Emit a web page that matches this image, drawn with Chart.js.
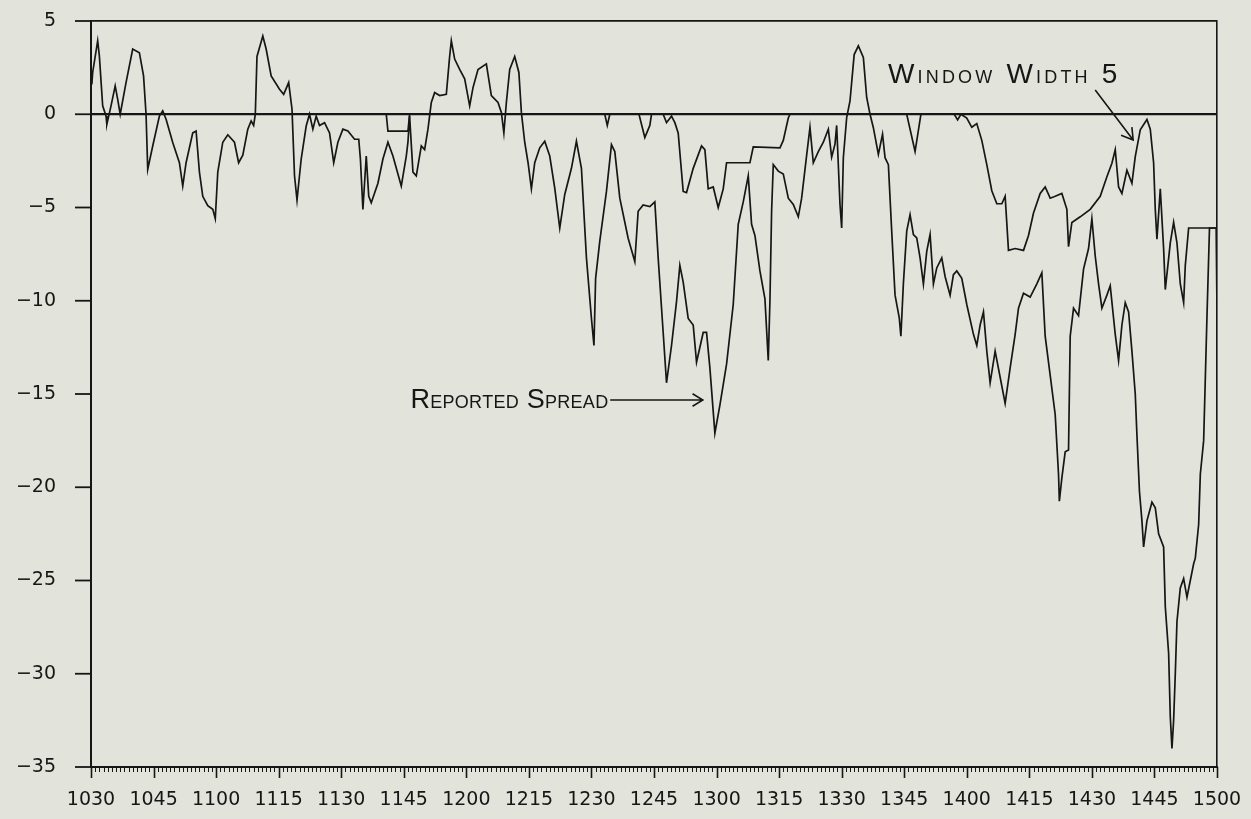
<!DOCTYPE html>
<html>
<head>
<meta charset="utf-8">
<script src="https://cdn.jsdelivr.net/npm/chart.js@4.4.0/dist/chart.umd.min.js"></script>
<style>
  html, body { margin: 0; padding: 0; background: #e2e4db; }
  #wrap { width: 1251px; height: 819px; position: relative; }
</style>
</head>
<body>
<div id="wrap"><canvas id="spread" width="1251" height="819"></canvas></div>
<script>
// minutes after 10:30, and spread values
var reportedTimes = [
  0.2, 0.4, 1.6, 2.0, 2.8, 3.6, 3.8, 4.8, 5.8, 6.4,
  7.0, 8.4, 10.0, 11.6, 12.6, 13.2, 13.6, 14.8, 16.4, 17.2,
  18.0, 19.6, 21.2, 22.0, 22.8, 24.4, 25.2, 26.0, 26.8, 28.0,
  29.2, 29.8, 30.4, 31.6, 32.8, 34.4, 35.4, 36.4, 37.6, 38.4,
  39.0, 39.4, 39.8, 41.2, 42.0, 43.2, 45.2, 46.2, 47.4, 48.2,
  48.8, 49.4, 50.4, 51.6, 52.4, 53.2, 54.0, 54.8, 56.0, 57.2,
  58.2, 59.2, 60.4, 61.6, 63.2, 64.2, 64.6, 65.2, 66.0, 66.6,
  67.2, 68.8, 70.0, 71.2, 72.4, 74.4, 75.6, 76.0, 76.4, 77.2,
  78.0, 79.2, 80.0, 80.8, 81.6, 82.4, 83.6, 85.2, 86.0, 86.4,
  87.2, 88.4, 89.6, 90.8, 91.6, 92.8, 94.8, 96.0, 97.6, 98.4,
  99.0, 99.6, 100.4, 101.6, 102.6, 103.2, 104.0, 104.8, 105.6, 106.4,
  107.6, 108.8, 110.0, 111.2, 112.4, 113.6, 115.2, 116.4, 117.6, 118.8,
  120.0, 120.6, 121.0, 122.0, 123.6, 124.8, 125.6, 126.8, 128.8, 130.4,
  131.2, 132.4, 134.0, 135.2, 136.0, 137.2, 138.0, 139.2, 140.4, 141.2,
  142.0, 143.2, 144.4, 145.2, 146.8, 147.6, 148.4, 149.6, 150.8, 152.4,
  154.0, 155.2, 156.4, 157.6, 158.4, 159.2, 160.4, 161.6, 162.4, 162.8,
  163.2, 163.6, 164.8, 166.0, 167.2, 168.4, 169.6, 170.4, 171.6, 172.4,
  173.2, 174.4, 175.6, 176.8, 177.6, 178.4, 178.8, 179.6, 180.0, 180.4,
  181.2, 182.0, 183.0, 184.0, 185.2, 186.0, 186.8, 187.6, 188.8, 189.8,
  190.4, 191.2, 192.0, 192.8, 193.8, 194.2, 194.8, 195.6, 196.4, 197.2,
  198.0, 198.8, 199.6, 200.4, 201.2, 202.0, 202.8, 204.0, 204.8, 206.0,
  206.8, 207.6, 208.8, 210.0, 211.6, 212.4, 213.2, 214.0, 214.8, 215.6,
  216.8, 218.0, 219.2, 220.4, 221.6, 222.4, 223.6, 225.2, 226.8, 228.0,
  228.8, 230.0, 231.2, 232.0, 232.2, 232.8, 233.6, 234.4, 234.8, 235.6,
  236.8, 238.0, 239.2, 240.0, 240.8, 241.6, 242.4, 243.6, 244.4, 245.6,
  246.4, 247.2, 248.0, 248.8, 249.6, 250.4, 250.8, 251.4, 252.0, 252.4,
  253.2, 254.4, 255.2, 256.0, 257.2, 257.6, 258.4, 258.8, 259.2, 259.6,
  260.0, 260.4, 261.2, 262.0, 262.8, 263.6, 264.4, 264.8, 265.6, 266.0,
  266.8, 267.6, 268.2, 269.8, 270.0
];
var reportedSpread = [
  1.6, 2.24, 3.94, 3.14, 0.45, -0.09, -0.54, 0.45, 1.52, 0.8,
  0, 1.7, 3.5, 3.3, 2.06, 0, -2.96, -1.7, -0.1, 0.18,
  -0.27, -1.52, -2.6, -3.85, -2.6, -1.0, -0.9, -3.1, -4.4, -4.9,
  -5.1, -5.6, -3.1, -1.5, -1.1, -1.5, -2.6, -2.2, -0.8, -0.36,
  -0.6, 0, 3.1, 4.2, 3.5, 2.06, 1.34, 1.07, 1.7, 0.27,
  -3.3, -4.6, -2.4, -0.63, 0, -0.8, -0.1, -0.6, -0.45, -1.0,
  -2.6, -1.5, -0.8, -0.9, -1.34, -1.34, -2.4, -5.1, -2.24, -4.4,
  -4.75, -3.7, -2.4, -1.5, -2.24, -3.85, -2.24, -1.5, -0.1, -3.1,
  -3.3, -1.7, -1.9, -0.8, 0.63, 1.16, 1.0, 1.07, 3.1, 3.94,
  2.96, 2.4, 1.9, 0.45, 1.43, 2.4, 2.7, 1.0, 0.63, 0.1,
  -1.0, 0.63, 2.4, 3.1, 2.24, 0.1, -1.5, -2.6, -4.0, -2.6,
  -1.8, -1.45, -2.24, -3.96, -6.1, -4.3, -2.9, -1.45, -2.9, -7.7,
  -10.95, -12.4, -8.8, -6.8, -4.14, -1.63, -2.0, -4.5, -6.65, -7.9,
  -5.2, -4.86, -4.95, -4.7, -7.7, -11.7, -14.4, -12.4, -10.05, -8.1,
  -9.0, -10.95, -11.3, -13.3, -11.7, -11.7, -13.6, -17.1, -15.6, -13.4,
  -10.2, -5.9, -4.7, -3.3, -5.9, -6.5, -8.4, -9.9, -13.2, -10.0,
  -5.2, -2.7, -3.05, -3.2, -4.5, -4.84, -5.5, -4.5, -2.2, -0.7,
  -2.6, -2.0, -1.5, -0.8, -2.3, -1.6, -0.6, -4.84, -6.1, -2.33,
  -0.18, 0.72, 3.2, 3.67, 3.05, 0.9, 0, -0.72, -2.15, -1.07,
  -2.33, -2.7, -6.27, -9.7, -10.9, -11.9, -9.07, -6.27, -5.38, -6.45,
  -6.63, -7.7, -9.1, -7.35, -6.45, -9.1, -8.24, -7.7, -8.7, -9.7,
  -8.6, -8.4, -8.8, -10.2, -11.8, -12.4, -11.3, -10.6, -12.7, -14.4,
  -12.7, -14.1, -15.5, -13.6, -11.8, -10.4, -9.6, -9.8, -9.1, -8.5,
  -11.9, -14.0, -16.1, -19.3, -20.75, -19.5, -18.1, -18.0, -11.9, -10.4,
  -10.8, -8.3, -7.2, -5.6, -7.6, -9.1, -10.4, -9.7, -9.2, -11.8,
  -13.2, -11.3, -10.1, -10.6, -12.7, -15.0, -17.2, -20.2, -21.8, -23.2,
  -21.8, -20.8, -21.1, -22.5, -23.2, -26.4, -28.9, -32.3, -34.0, -32.5,
  -30.0, -27.2, -25.4, -24.9, -25.9, -25.0, -24.1, -23.8, -22.0, -19.3,
  -17.5, -10.8, -6.1, -6.1, -10.5
];

var windowTimes = [
  0, 70.8, 71.2, 76.0, 76.4, 123.2, 123.8, 124.4, 131.4, 132.8,
  134.0, 134.4, 137.2, 138.0, 139.2, 140.0, 140.8, 142.0, 142.8, 144.4,
  146.4, 147.2, 148.0, 149.2, 150.4, 151.6, 152.4, 158.0, 158.8, 165.2,
  166.0, 167.2, 167.6, 195.6, 197.6, 199.0, 207.0, 207.8, 208.6, 210.0,
  211.2, 212.4, 213.6, 214.8, 216.0, 217.2, 218.4, 219.2, 220.0, 221.6,
  223.6, 224.8, 226.0, 227.6, 228.8, 230.0, 231.2, 232.8, 234.0, 234.4,
  235.2, 237.2, 239.6, 242.0, 243.6, 244.8, 245.6, 246.4, 247.2, 248.4,
  249.6, 250.4, 251.6, 253.2, 254.0, 254.8, 255.2, 255.6, 256.4, 257.2,
  257.6, 258.8, 259.6, 260.4, 261.2, 262.0, 262.4, 263.2, 270.0
];
var windowWidth5 = [
  0, 0, -0.9, -0.9, 0, 0, -0.6, 0, 0, -1.25,
  -0.6, 0, 0, -0.45, -0.1, -0.45, -1.0, -4.14, -4.2, -2.9,
  -1.7, -1.9, -4.0, -3.9, -5.0, -4.0, -2.6, -2.6, -1.75, -1.8,
  -1.4, -0.2, 0, 0, -2.0, 0, 0, -0.3, 0, -0.2,
  -0.7, -0.5, -1.4, -2.7, -4.1, -4.8, -4.8, -4.4, -7.3, -7.2,
  -7.3, -6.5, -5.3, -4.25, -3.9, -4.5, -4.4, -4.25, -5.1, -7.1,
  -5.8, -5.5, -5.1, -4.4, -3.35, -2.63, -1.9, -3.9, -4.25, -3.0,
  -3.7, -2.27, -0.83, -0.28, -0.8, -2.6, -5.1, -6.7, -4.0, -7.2,
  -9.4, -6.9, -5.8, -6.9, -9.1, -10.1, -8.1, -6.1, -6.1
];

var xTickLabels = ['1030', '1045', '1100', '1115', '1130', '1145', '1200', '1215', '1230', '1245',
                   '1300', '1315', '1330', '1345', '1400', '1415', '1430', '1445', '1500'];
var yTickLabels = ['5', '0', '\u22125', '\u221210', '\u221215', '\u221220', '\u221225', '\u221230', '\u221235'];

var INK = '#161616';
var NONE = 'rgba(0,0,0,0)';
var TICK_FONT = { family: 'DejaVu Sans', size: 19 };
var NOTE_FONT = 'Liberation Sans';

function toPoints(xs, ys) {
  return xs.map(function (t, i) { return { x: t, y: ys[i] }; });
}

// draw "Small Caps" text spread between two pixel positions
function drawCaps(ctx, text, x0, x1, base, big, small) {
  var parts = [], natural = 0;
  for (var i = 0; i < text.length; i++) {
    var ch = text[i];
    var isBig = ch === ' ' || ch !== ch.toLowerCase() || /[0-9]/.test(ch);
    var size = isBig ? big : small;
    ctx.font = size + 'px "' + NOTE_FONT + '"';
    var w = ctx.measureText(ch.toUpperCase()).width;
    parts.push({ ch: ch.toUpperCase(), size: size, w: w });
    natural += w;
  }
  var gap = (x1 - x0 - natural) / (parts.length - 1);
  var x = x0;
  parts.forEach(function (p) {
    ctx.font = p.size + 'px "' + NOTE_FONT + '"';
    ctx.fillText(p.ch, x, base);
    x += p.w + gap;
  });
}

function arrow(ctx, x0, y0, x1, y1, head) {
  var a = Math.atan2(y1 - y0, x1 - x0);
  ctx.beginPath();
  ctx.moveTo(x0, y0);
  ctx.lineTo(x1, y1);
  ctx.moveTo(x1 - head * Math.cos(a - 0.55), y1 - head * Math.sin(a - 0.55));
  ctx.lineTo(x1, y1);
  ctx.lineTo(x1 - head * Math.cos(a + 0.55), y1 - head * Math.sin(a + 0.55));
  ctx.stroke();
}

// tick marks: a comb of minute ticks under the time axis, short marks left of the y axis
var axisTicks = {
  id: 'axisTicks',
  afterDraw: function (chart) {
    var xs = chart.scales.x, ys = chart.scales.y, ctx = chart.ctx, area = chart.chartArea;
    ctx.save();
    ctx.strokeStyle = INK;
    for (var t = 0; t <= 270; t++) {
      var px = Math.round(xs.getPixelForValue(t)) + 0.5;
      var major = t % 15 === 0;
      ctx.lineWidth = major ? 1.6 : 1;
      ctx.beginPath();
      ctx.moveTo(px, area.bottom);
      ctx.lineTo(px, area.bottom + (major ? 11 : 5));
      ctx.stroke();
    }
    ctx.lineWidth = 1.8;
    ys.ticks.forEach(function (tk) {
      var py = ys.getPixelForValue(tk.value);
      ctx.beginPath();
      ctx.moveTo(area.left - 16, py);
      ctx.lineTo(area.left, py);
      ctx.stroke();
    });
    ctx.restore();
  }
};

var notes = {
  id: 'notes',
  afterDraw: function (chart) {
    var xs = chart.scales.x, ys = chart.scales.y, ctx = chart.ctx;
    ctx.save();
    ctx.fillStyle = INK;
    ctx.strokeStyle = INK;
    ctx.lineWidth = 1.6;
    ctx.textBaseline = 'alphabetic';
    ctx.textAlign = 'left';

    drawCaps(ctx, 'Reported Spread', xs.getPixelForValue(76.6), xs.getPixelForValue(124.0),
             ys.getPixelForValue(-15.75), 27, 18);
    arrow(ctx, xs.getPixelForValue(124.5), ys.getPixelForValue(-15.32),
          xs.getPixelForValue(146.7), ys.getPixelForValue(-15.32), 12);

    drawCaps(ctx, 'Window Width 5', xs.getPixelForValue(191.1), xs.getPixelForValue(246.1),
             ys.getPixelForValue(1.68), 28, 18);
    arrow(ctx, xs.getPixelForValue(240.8), ys.getPixelForValue(1.30),
          xs.getPixelForValue(249.9), ys.getPixelForValue(-1.38), 13);
    ctx.restore();
  }
};

new Chart(document.getElementById('spread'), {
  type: 'line',
  data: {
    datasets: [
      {
        label: 'Reported Spread',
        data: toPoints(reportedTimes, reportedSpread),
        borderColor: INK,
        borderWidth: 1.7,
        pointRadius: 0,
        tension: 0,
        fill: false
      },
      {
        label: 'Window Width 5',
        data: toPoints(windowTimes, windowWidth5),
        borderColor: INK,
        borderWidth: 1.7,
        pointRadius: 0,
        tension: 0,
        fill: false
      }
    ]
  },
  options: {
    responsive: false,
    devicePixelRatio: 1,
    animation: false,
    layout: { padding: { top: 21, left: 0, right: 0, bottom: 0 } },
    plugins: { legend: { display: false }, tooltip: { enabled: false } },
    scales: {
      x: {
        type: 'linear',
        position: 'bottom',
        min: 0,
        max: 270,
        grid: { display: true, drawOnChartArea: false, drawTicks: true, tickLength: 22, tickColor: NONE, color: NONE },
        border: { display: true, color: INK, width: 2 },
        ticks: {
          stepSize: 15,
          autoSkip: false,
          maxRotation: 0,
          minRotation: 0,
          padding: 0,
          color: INK,
          font: TICK_FONT,
          callback: function (v) { return xTickLabels[Math.round(v / 15)]; }
        },
        afterFit: function (s) { s.height = 52; }
      },
      y: {
        position: 'left',
        min: -35,
        max: 5,
        grid: {
          drawOnChartArea: true,
          color: function (c) {
            var v = c.tick && c.tick.value;
            return (v === 0 || v === 5) ? INK : NONE;
          },
          lineWidth: function (c) { return c.tick && c.tick.value === 0 ? 2.2 : 1.8; },
          tickColor: NONE,
          tickLength: 35
        },
        border: { display: true, color: INK, width: 2 },
        ticks: {
          stepSize: 5,
          padding: 0,
          color: INK,
          font: TICK_FONT,
          callback: function (v) { return yTickLabels[Math.round((5 - v) / 5)]; }
        },
        afterFit: function (s) { s.width = 91; }
      },
      yRight: {
        position: 'right',
        min: -35,
        max: 5,
        grid: { display: false, drawTicks: false },
        ticks: { display: false },
        border: { display: true, color: INK, width: 1.6 },
        afterFit: function (s) { s.width = 34; }
      }
    }
  },
  plugins: [axisTicks, notes]
});
</script>
</body>
</html>
